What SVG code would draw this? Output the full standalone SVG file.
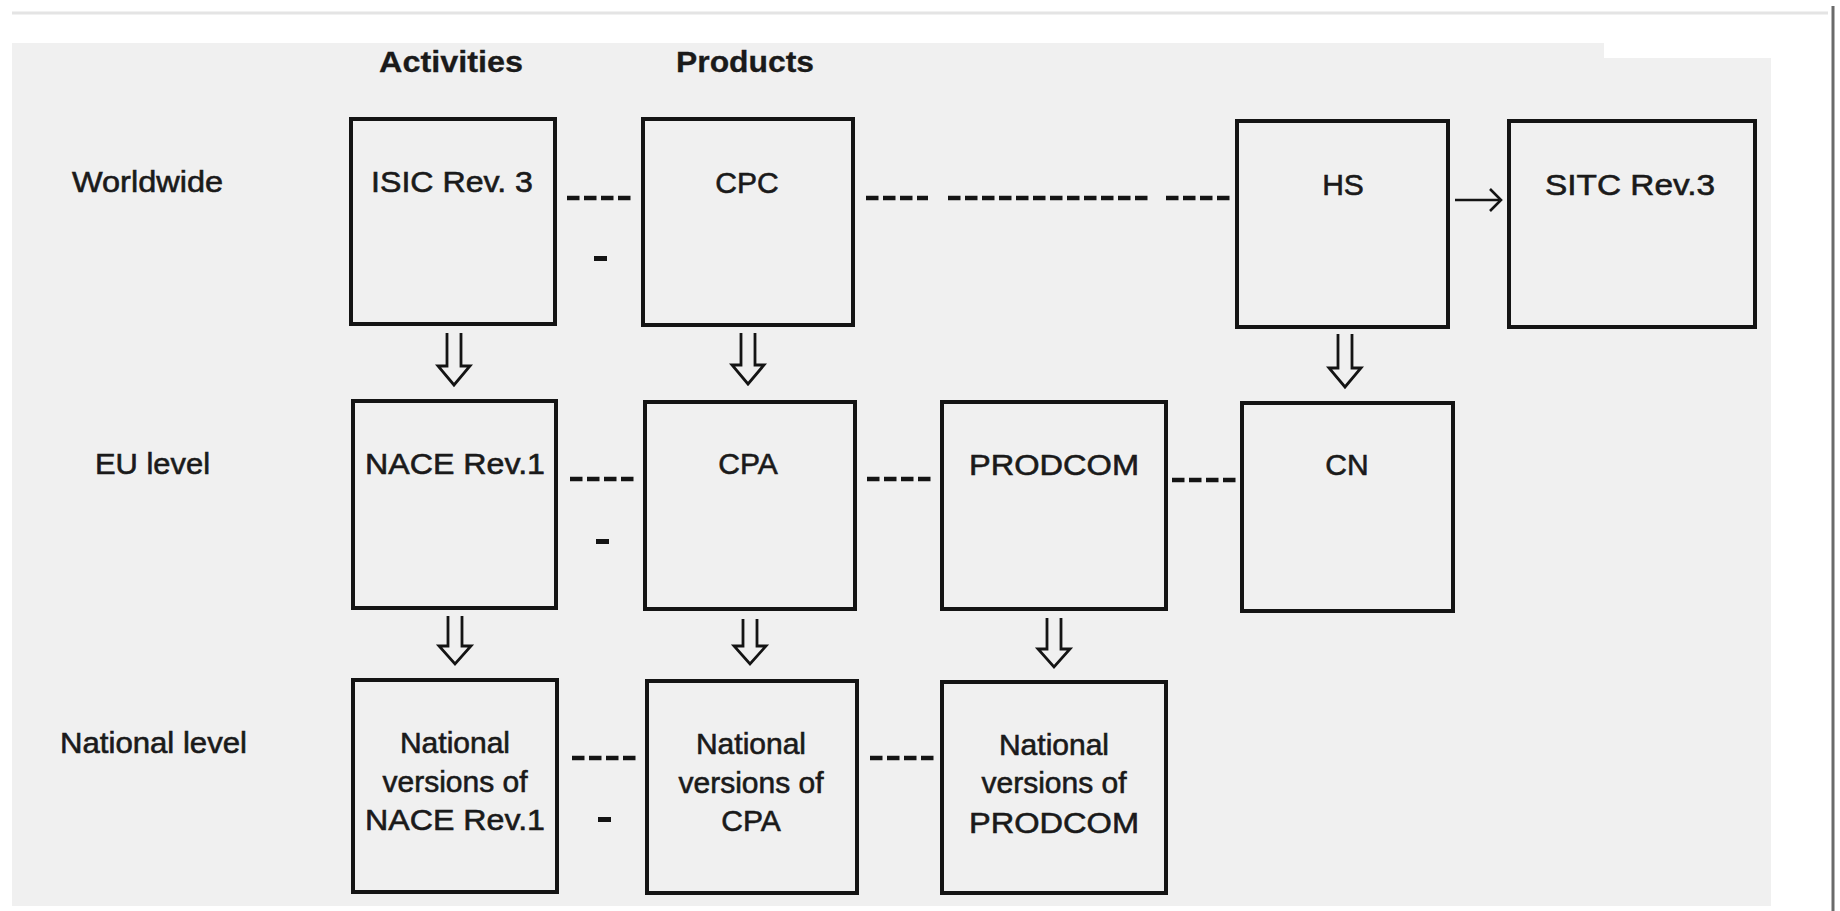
<svg xmlns="http://www.w3.org/2000/svg" width="1840" height="911" viewBox="0 0 1840 911">
<style>
.box{fill:none;stroke:#141414;stroke-width:4}
.t{font-family:"Liberation Sans",Arial,sans-serif;font-size:30px;fill:#1a1a1a;stroke:#1a1a1a;stroke-width:0.6}
.c{text-anchor:middle}
.h{font-weight:bold;stroke-width:0.3}
.dash{stroke:#141414;stroke-width:4.5;stroke-dasharray:12.5 4.5;fill:none}
.dot{fill:#141414}
.dn{fill:none;stroke:#141414;stroke-width:2.8;stroke-linejoin:miter}
</style>
<rect x="0" y="0" width="1840" height="911" fill="#ffffff"/>
<g id="page">
<line x1="12" y1="13" x2="1828" y2="13" stroke="#e4e4e4" stroke-width="3"/>
<path d="M12 43 H1604 V58 H1771 V906 H12 Z" fill="#f0f0f0"/>
<line x1="1833" y1="6" x2="1833" y2="911" stroke="#6a6a6a" stroke-width="3"/>
</g>
<g id="headers">
<text class="t h" x="379" y="72" textLength="144" lengthAdjust="spacingAndGlyphs">Activities</text>
<text class="t h" x="676" y="72" textLength="138" lengthAdjust="spacingAndGlyphs">Products</text>
<text class="t" x="72" y="192" textLength="151" lengthAdjust="spacingAndGlyphs">Worldwide</text>
<text class="t" x="95" y="474" textLength="115" lengthAdjust="spacingAndGlyphs">EU level</text>
<text class="t" x="60" y="753" textLength="187" lengthAdjust="spacingAndGlyphs">National level</text>
</g>
<g id="isic"><rect class="box" x="351" y="119" width="204" height="205"/><text class="t c" x="452" y="192" textLength="162" lengthAdjust="spacingAndGlyphs">ISIC Rev. 3</text></g>
<g id="cpc"><rect class="box" x="643" y="119" width="210" height="206"/><text class="t c" x="747" y="193">CPC</text></g>
<g id="hs"><rect class="box" x="1237" y="121" width="211" height="206"/><text class="t c" x="1343" y="195">HS</text></g>
<g id="sitc"><rect class="box" x="1509" y="121" width="246" height="206"/><text class="t c" x="1630" y="195" textLength="170" lengthAdjust="spacingAndGlyphs">SITC Rev.3</text></g>
<g id="nace"><rect class="box" x="353" y="401" width="203" height="207"/><text class="t c" x="455" y="474" textLength="180" lengthAdjust="spacingAndGlyphs">NACE Rev.1</text></g>
<g id="cpa"><rect class="box" x="645" y="402" width="210" height="207"/><text class="t c" x="748" y="474">CPA</text></g>
<g id="prodcom"><rect class="box" x="942" y="402" width="224" height="207"/><text class="t c" x="1054" y="475" textLength="170" lengthAdjust="spacingAndGlyphs">PRODCOM</text></g>
<g id="cn"><rect class="box" x="1242" y="403" width="211" height="208"/><text class="t c" x="1347" y="475">CN</text></g>
<g id="nat-nace"><rect class="box" x="353" y="680" width="204" height="212"/>
<text class="t c" x="455" y="753">National</text><text class="t c" x="455" y="792">versions of</text><text class="t c" x="455" y="830" textLength="180" lengthAdjust="spacingAndGlyphs">NACE Rev.1</text></g>
<g id="nat-cpa"><rect class="box" x="647" y="681" width="210" height="212"/>
<text class="t c" x="751" y="754">National</text><text class="t c" x="751" y="793">versions of</text><text class="t c" x="751" y="831">CPA</text></g>
<g id="nat-prodcom"><rect class="box" x="942" y="682" width="224" height="211"/>
<text class="t c" x="1054" y="755">National</text><text class="t c" x="1054" y="793">versions of</text><text class="t c" x="1054" y="833" textLength="170" lengthAdjust="spacingAndGlyphs">PRODCOM</text></g>
<g id="connectors">
<line class="dash" x1="567" y1="198" x2="632" y2="198"/>
<line class="dash" x1="866" y1="198" x2="928" y2="198"/>
<line class="dash" x1="948" y1="198" x2="1150" y2="198"/>
<line class="dash" x1="1166" y1="198" x2="1232" y2="198"/>
<line class="dash" x1="570" y1="479" x2="634" y2="479"/>
<line class="dash" x1="867" y1="479" x2="931" y2="479"/>
<line class="dash" x1="1172" y1="480" x2="1237" y2="480"/>
<line class="dash" x1="572" y1="758" x2="636" y2="758"/>
<line class="dash" x1="870" y1="758" x2="934" y2="758"/>
<rect class="dot" x="594" y="256" width="13" height="5"/>
<rect class="dot" x="596" y="539" width="13" height="5"/>
<rect class="dot" x="598" y="817" width="13" height="5"/>
<line x1="1455" y1="200" x2="1499" y2="200" stroke="#141414" stroke-width="2.6"/>
<path d="M1490 189 L1501 200 L1490 211" fill="none" stroke="#141414" stroke-width="2.6"/>
<path class="dn" d="M447 333 V366 L438 366 L454 385 L470 366 L461 366 V333"/>
<path class="dn" d="M741 333 V365 L732 365 L748 384 L764 365 L755 365 V333"/>
<path class="dn" d="M1338 334 V368 L1329 368 L1345 387 L1361 368 L1352 368 V334"/>
<path class="dn" d="M448 616 V646 L439 646 L455 664 L471 646 L462 646 V616"/>
<path class="dn" d="M743 619 V646 L734 646 L750 664 L766 646 L757 646 V619"/>
<path class="dn" d="M1047 618 V649 L1038 649 L1054 667 L1070 649 L1061 649 V618"/>
</g>
</svg>
